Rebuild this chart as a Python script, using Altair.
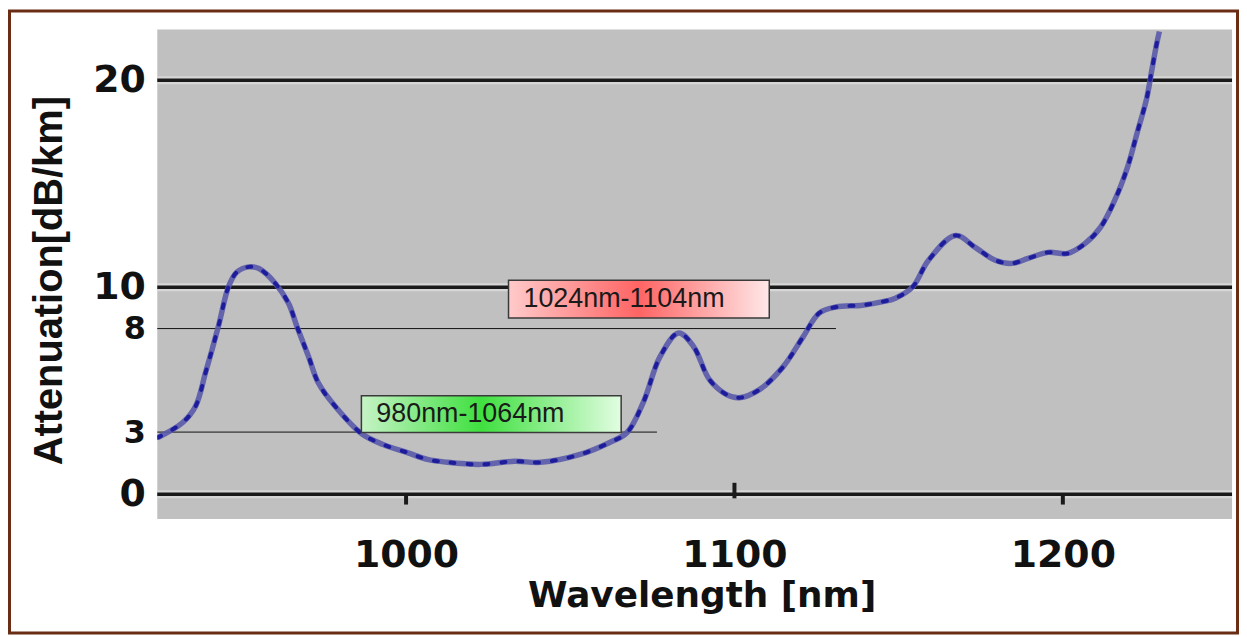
import altair as alt
import pandas as pd

# ---- data ----
wavelength = [924.3, 931.9, 935.9, 938.9, 940.9, 943.0, 946.0, 948.5, 952.1, 955.2, 960.2,
              964.2, 966.8, 970.3, 973.3, 978.4, 986.5, 993.0, 1000.6, 1006.5, 1012.7, 1022.7,
              1033.0, 1041.0, 1053.0, 1062.0, 1067.3, 1072.4, 1077.3, 1083.0, 1087.6, 1092.4,
              1097.6, 1101.5, 1107.6, 1114.8, 1120.9, 1125.8, 1130.9, 1139.0, 1145.2, 1149.0,
              1154.2, 1159.1, 1167.3, 1173.3, 1179.4, 1184.5, 1189.4, 1195.5, 1201.5, 1206.7,
              1211.5, 1215.8, 1219.7, 1222.7, 1225.5, 1227.0, 1228.5, 1229.4]
attenuation = [2.73, 3.45, 4.25, 5.85, 6.97, 8.2, 10.05, 10.73, 10.98, 10.9, 10.18,
               9.22, 8.09, 6.65, 5.37, 4.25, 2.92, 2.4, 2.0, 1.68, 1.54, 1.44,
               1.59, 1.54, 1.92, 2.5, 2.98, 4.5, 6.63, 7.79, 7.12, 5.53,
               4.81, 4.66, 5.05, 6.15, 7.6, 8.75, 9.04, 9.13, 9.3, 9.47,
               10.0, 11.3, 12.5, 11.92, 11.3, 11.15, 11.39, 11.68, 11.63, 12.1,
               12.9, 14.2, 15.8, 17.5, 19.1, 20.4, 21.7, 22.35]

y_ticks = [0, 3, 8, 10, 20]
x_ticks = [1000, 1100, 1200]
major_levels = [0, 10, 20]
ref_levels = [8, 3]
ref_ends = [1130.9, 1076.4]
tick_wl = [1000, 1100, 1200]
tick_top = [0.0, 0.55, 0.0]
tick_bottom = [-0.5, -0.2, -0.5]

box_labels = ["980nm-1064nm", "1024nm-1104nm"]
box_x0 = [986.4, 1031.2]
box_x1 = [1065.5, 1110.6]
box_ylo = [2.98, 8.51]
box_yhi = [4.76, 10.34]

X_DOMAIN = [924.24, 1251.52]
Y_DOMAIN = [-1.2, 22.45]
W, H = 1080, 492
PAD = {"left": 150, "top": 20, "right": 7, "bottom": 116}

curve_df = pd.DataFrame({"wl": wavelength, "att": attenuation})
major_df = pd.DataFrame({"lvl": major_levels})
ref_df = pd.DataFrame({"lvl": ref_levels, "end": ref_ends})
tick_df = pd.DataFrame({"wl": tick_wl, "top": tick_top, "bottom": tick_bottom})
box_df = pd.DataFrame({"label": box_labels, "x0": box_x0, "x1": box_x1,
                       "ylo": box_ylo, "yhi": box_yhi})
box_df["ymid"] = (box_df["ylo"] + box_df["yhi"]) / 2

xscale = alt.Scale(domain=X_DOMAIN, nice=False, zero=False)
yscale = alt.Scale(domain=Y_DOMAIN, nice=False, zero=False)

x_axis = alt.Axis(
    values=x_ticks, title="Wavelength [nm]", grid=False, domain=False, ticks=False,
    labelFont="DejaVu Sans", labelFontWeight="bold", labelFontSize=38, labelColor="#111",
    labelPadding=18, format="d",
    titleFont="DejaVu Sans", titleFontWeight="bold", titleFontSize=36, titleColor="#111",
    titleX=547, titleY=88, titleAlign="center", titleBaseline="alphabetic",
)
y_axis = alt.Axis(
    values=y_ticks, title="Attenuation[dB/km]", grid=False, domain=False, ticks=False,
    labelFont="DejaVu Sans", labelFontWeight="bold", labelColor="#111",
    labelFontSize={"condition": {"test": "datum.value == 3 || datum.value == 8", "value": 32},
                   "value": 38},
    labelPadding=12,
    titleFont="Liberation Sans", titleFontWeight="bold", titleFontSize=40, titleColor="#111",
    titleAngle=270, titleX=-108, titleY=252, titleAlign="center", titleBaseline="middle",
)

base_x = alt.X("wl:Q", scale=xscale, axis=x_axis)
base_y = alt.Y("att:Q", scale=yscale, axis=y_axis)

curve_glow = alt.Chart(curve_df).mark_line(
    color="#5a5aaa", strokeWidth=5.5, interpolate="catmull-rom", clip=True, opacity=0.9
).encode(x=base_x, y=base_y)
curve_dots = alt.Chart(curve_df).mark_line(
    color="#1c1c9c", strokeWidth=4, interpolate="catmull-rom", clip=True,
    strokeDash=[4, 13], strokeCap="round"
).encode(x=alt.X("wl:Q", scale=xscale), y=alt.Y("att:Q", scale=yscale))

major_halo = alt.Chart(major_df).mark_rule(color="#d6d6d6", strokeWidth=8).encode(
    y=alt.Y("lvl:Q", scale=yscale))
major_rules = alt.Chart(major_df).mark_rule(color="#1a1a1a", strokeWidth=3.5).encode(
    y=alt.Y("lvl:Q", scale=yscale))

ref_rules = alt.Chart(ref_df).transform_calculate(start=str(X_DOMAIN[0])).mark_rule(
    color="#111", strokeWidth=1).encode(
    x=alt.X("start:Q", scale=xscale), x2="end:Q",
    y=alt.Y("lvl:Q", scale=yscale))

ticks = alt.Chart(tick_df).mark_rule(color="#1a1a1a", strokeWidth=4).encode(
    x=alt.X("wl:Q", scale=xscale), y=alt.Y("top:Q", scale=yscale), y2="bottom:Q")

green_grad = alt.LinearGradient(
    gradient="linear", x1=0, x2=1, y1=0, y2=0,
    stops=[alt.GradientStop(color="#c6f3c6", offset=0),
           alt.GradientStop(color="#3fe03f", offset=0.46),
           alt.GradientStop(color="#e2fde2", offset=1)])
red_grad = alt.LinearGradient(
    gradient="linear", x1=0, x2=1, y1=0, y2=0,
    stops=[alt.GradientStop(color="#ffcaca", offset=0),
           alt.GradientStop(color="#ff6464", offset=0.5),
           alt.GradientStop(color="#ffe8e8", offset=1)])

def box_layer(label, grad):
    return alt.Chart(box_df).transform_filter(alt.datum.label == label).mark_rect(
        fill=grad, stroke="#3a3a3a", strokeWidth=1.5).encode(
        x=alt.X("x0:Q", scale=xscale), x2="x1:Q",
        y=alt.Y("ylo:Q", scale=yscale), y2="yhi:Q")

green_box = box_layer(box_labels[0], green_grad)
red_box = box_layer(box_labels[1], red_grad)

box_text = alt.Chart(box_df).mark_text(
    align="left", baseline="middle", dx=15, font="Liberation Sans, Arial, sans-serif",
    fontSize=27, color="#1a1a1a").encode(
    x=alt.X("x0:Q", scale=xscale), y=alt.Y("ymid:Q", scale=yscale), text="label:N")

frame = alt.Chart(pd.DataFrame({"k": [0]})).mark_rect(
    fill="white", fillOpacity=0, stroke="#6b2c14", strokeWidth=3).encode(
    x=alt.value(-PAD["left"] + 1.5), x2=alt.value(W + PAD["right"] - 1.5),
    y=alt.value(-PAD["top"] + 1.5), y2=alt.value(H + PAD["bottom"] - 1.5))

chart = alt.layer(
    major_halo, major_rules, ref_rules, ticks, curve_glow, curve_dots,
    green_box, red_box, box_text, frame
).properties(
    width=W, height=H,
    autosize=alt.AutoSizeParams(type="none"),
    padding=PAD,
    background="white",
).configure_view(fill="#c0c0c0", strokeWidth=0)

chart.save("out.html", embed_options={"renderer": "svg", "actions": False})
